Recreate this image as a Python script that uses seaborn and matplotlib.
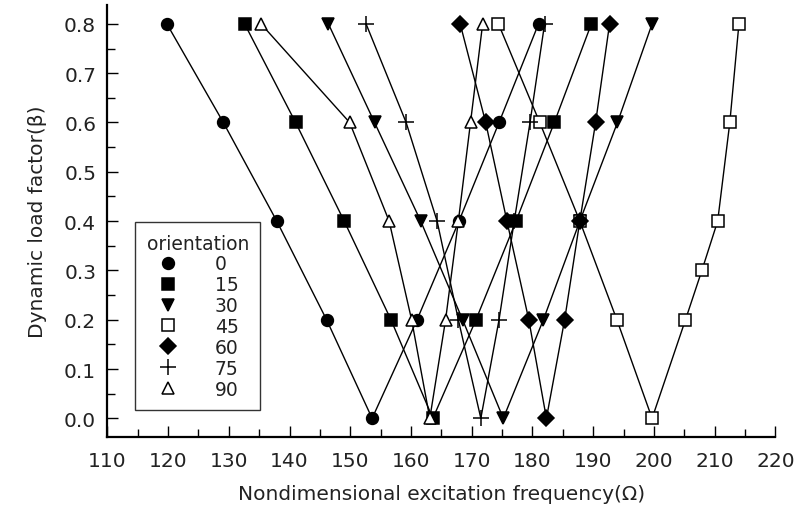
import numpy as np
import pandas as pd
import matplotlib
matplotlib.use("Agg")
import matplotlib.pyplot as plt
from matplotlib.lines import Line2D
from matplotlib.ticker import MultipleLocator
import seaborn as sns

# Each series is traced along its instability boundary (beta 0.8 -> 0 -> 0.8)
beta_v = [0.8, 0.6, 0.4, 0.2, 0.0, 0.2, 0.4, 0.6, 0.8]
beta_45 = [0.8, 0.6, 0.4, 0.2, 0.0, 0.2, 0.3, 0.4, 0.6, 0.8]

omega_0 = [119.8, 129.1, 137.9, 146.1, 153.6, 161.0, 167.9, 174.5, 181.0]
omega_15 = [132.6, 141.0, 149.0, 156.7, 163.6, 170.7, 177.3, 183.6, 189.7]
omega_30 = [146.4, 154.0, 161.6, 168.5, 175.2, 181.8, 187.8, 194.0, 199.7]
omega_45 = [174.4, 181.2, 187.8, 193.9, 199.7, 205.2, 207.9, 210.5, 212.5, 214.0]
omega_60 = [168.1, 172.3, 175.8, 179.4, 182.3, 185.3, 187.8, 190.4, 192.7]
omega_75 = [152.6, 159.2, 164.3, 167.8, 171.5, 174.5, 177.0, 179.6, 182.0]
omega_90 = [135.3, 149.9, 156.4, 160.1, 163.1, 165.7, 167.8, 169.8, 171.8]

orientations = ["0", "15", "30", "45", "60", "75", "90"]
series = {
    "0": (omega_0, beta_v),
    "15": (omega_15, beta_v),
    "30": (omega_30, beta_v),
    "45": (omega_45, beta_45),
    "60": (omega_60, beta_v),
    "75": (omega_75, beta_v),
    "90": (omega_90, beta_v),
}
marker_style = {
    "0": dict(marker="o", mfc="black", ms=8.5),
    "15": dict(marker="s", mfc="black", ms=8),
    "30": dict(marker="v", mfc="black", ms=9),
    "45": dict(marker="s", mfc="white", ms=8),
    "60": dict(marker="D", mfc="black", ms=8),
    "75": dict(marker="+", mfc="black", ms=11),
    "90": dict(marker="^", mfc="white", ms=8.5),
}

x_ticks = list(range(110, 221, 10))
y_ticks = [0.0, 0.1, 0.2, 0.3, 0.4, 0.5, 0.6, 0.7, 0.8]

sns.set_style("white")
plt.rcParams["font.family"] = ["DejaVu Sans"]

fig = plt.figure(figsize=(8.01, 5.10), dpi=100)
ax = fig.add_axes([0.134, 0.141, 0.834, 0.847])

for o in orientations:
    xs, ys = series[o]
    df = pd.DataFrame({"omega": xs, "beta": ys})
    st = marker_style[o]
    sns.lineplot(data=df, x="omega", y="beta", sort=False, estimator=None,
                 color="black", lw=1.0, ax=ax,
                 marker=st["marker"], markersize=st["ms"],
                 markerfacecolor=st["mfc"], markeredgecolor="black",
                 markeredgewidth=1.1, zorder=3)

ax.set_xlim(110, 220)
ax.set_ylim(-0.038, 0.838)
ax.set_xticks(x_ticks)
ax.set_xticklabels([str(v) for v in x_ticks])
ax.set_yticks(y_ticks)
ax.set_yticklabels([f"{v:.1f}" for v in y_ticks])
ax.xaxis.set_minor_locator(MultipleLocator(5))
ax.yaxis.set_minor_locator(MultipleLocator(0.05))
ax.tick_params(axis="both", which="both", direction="in", color="black",
               width=1.0, labelsize=14.5, labelcolor="#222222",
               bottom=True, left=True, top=False, right=False)
ax.tick_params(axis="both", which="major", length=8)
ax.tick_params(axis="both", which="minor", length=6)
ax.tick_params(axis="x", which="major", pad=10)
ax.tick_params(axis="y", which="major", pad=8)
ax.spines["top"].set_visible(False)
ax.spines["right"].set_visible(False)
for s in ["left", "bottom"]:
    ax.spines[s].set_color("black")
    ax.spines[s].set_linewidth(1.6)

ax.set_xlabel("Nondimensional excitation frequency(Ω)", fontsize=14.5,
              color="#222222", labelpad=10)
ax.set_ylabel("Dynamic load factor(β)", fontsize=14.5, color="#222222",
              labelpad=12)

handles = []
for o in orientations:
    st = marker_style[o]
    handles.append(Line2D([], [], linestyle="none", marker=st["marker"],
                          markersize=st["ms"], markerfacecolor=st["mfc"],
                          markeredgecolor="black", markeredgewidth=1.1,
                          color="black", label=o))
leg = ax.legend(handles=handles, title="orientation", loc="lower left",
                bbox_to_anchor=(0.042, 0.063), borderaxespad=0,
                fontsize=13.5, title_fontsize=13.5, frameon=True, fancybox=False,
                handletextpad=1.9, labelspacing=0.1, borderpad=0.6,
                handlelength=1.2)
leg.get_frame().set_edgecolor("black")
leg.get_frame().set_linewidth(1.0)
leg.get_title().set_color("#222222")
for t in leg.get_texts():
    t.set_color("#222222")

fig.savefig("out.png", dpi=100)
